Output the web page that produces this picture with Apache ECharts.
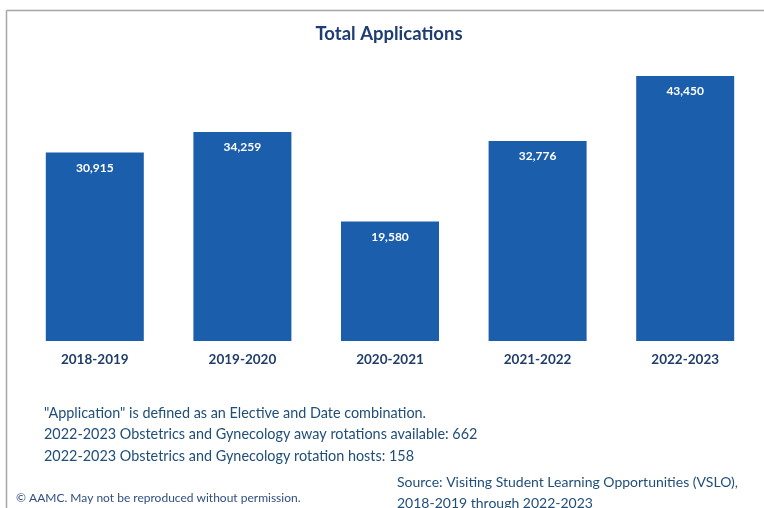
<!DOCTYPE html>
<html><head><meta charset="utf-8">
<script src="https://cdn.jsdelivr.net/npm/echarts@6/dist/echarts.min.js"></script>
<style>html,body{margin:0;padding:0;background:#fff}#c{width:764px;height:508px}</style>
</head><body><div id="c"></div>
<script>
const categories = ["2018-2019","2019-2020","2020-2021","2021-2022","2022-2023"];
const applications = [30915, 34259, 19580, 32776, 43450];
const titleText = "Total Applications";
const notes = [
  "\"Application\" is defined as an Elective and Date combination.",
  "2022-2023 Obstetrics and Gynecology away rotations available: 662",
  "2022-2023 Obstetrics and Gynecology rotation hosts: 158"
];
const sourceText = ["Source: Visiting Student Learning Opportunities (VSLO),", "2018-2019 through 2022-2023"];
const copyright = "© AAMC. May not be reproduced without permission.";

const FONT = "Lato";
const chart = echarts.init(document.getElementById('c'));
const graphics = [
  {type:'line', shape:{x1:6.5,y1:10.5,x2:764,y2:10.5}, style:{stroke:'#a6a6a6',lineWidth:1.5}},
  {type:'line', shape:{x1:6.5,y1:10.5,x2:6.5,y2:508}, style:{stroke:'#a6a6a6',lineWidth:1.5}},
  {type:'text', x:389, y:34, style:{text:titleText, fill:'#1f3d73', align:'center', verticalAlign:'middle', font:'bold 18.5px "'+FONT+'"'}}
];
notes.forEach((t,i)=>graphics.push({type:'text', x:44, y:413+i*21.5,
  style:{text:t, fill:'#1f4e79', verticalAlign:'middle', font:'14.4px "'+FONT+'"'}}));
sourceText.forEach((t,i)=>graphics.push({type:'text', x:397, y:482+i*21,
  style:{text:t, fill:'#1f4e79', verticalAlign:'middle', font:'14px "'+FONT+'"'}}));
graphics.push({type:'text', x:16, y:498, style:{text:copyright, fill:'#2f4f7f', verticalAlign:'middle', font:'12px "'+FONT+'"'}});

chart.setOption({
  animation:false,
  grid:{left:21, right:5, top:36, bottom:167},
  xAxis:{type:'category', data:categories, axisLine:{show:false}, axisTick:{show:false},
    axisLabel:{margin:12, fontFamily:FONT, fontSize:13.5, fontWeight:'bold', color:'#1f3d6b'}},
  yAxis:{type:'value', min:0, max:50000, show:false, splitLine:{show:false}},
  series:[{type:'bar', data:applications, barWidth:'66.4%',
    itemStyle:{color:'#1b5eab'},
    label:{show:true, position:'insideTop', distance:9.5, color:'#fff', fontFamily:FONT, fontSize:12, fontWeight:'bold',
      formatter:p=>p.value.toLocaleString('en-US')}}],
  graphic:graphics
});
</script></body></html>
